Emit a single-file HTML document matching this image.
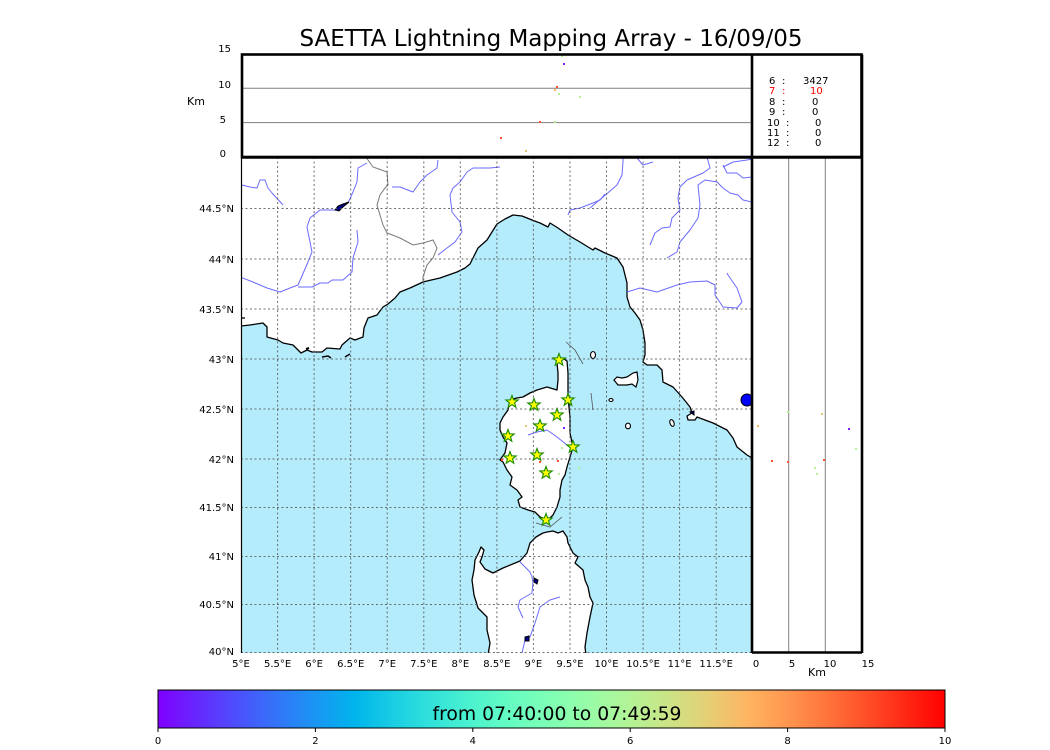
<!DOCTYPE html>
<html><head><meta charset="utf-8"><style>
html,body{margin:0;padding:0;background:#fff;}
svg{display:block;}
text{font-family:"DejaVu Sans","Liberation Sans",sans-serif;fill:#000;}
</style></head><body>
<svg width="1050" height="750" viewBox="0 0 1050 750" xmlns="http://www.w3.org/2000/svg">
<defs>
<clipPath id="mc"><rect x="241" y="157" width="511" height="496"/></clipPath>
<linearGradient id="rb" x1="0" x2="1" y1="0" y2="0">
<stop offset="0" stop-color="rgb(128,0,255)"/>
<stop offset="0.05" stop-color="rgb(102,40,254)"/>
<stop offset="0.1" stop-color="rgb(77,79,252)"/>
<stop offset="0.15" stop-color="rgb(51,116,248)"/>
<stop offset="0.2" stop-color="rgb(26,150,243)"/>
<stop offset="0.25" stop-color="rgb(0,180,236)"/>
<stop offset="0.3" stop-color="rgb(26,206,227)"/>
<stop offset="0.35" stop-color="rgb(51,227,218)"/>
<stop offset="0.4" stop-color="rgb(77,243,206)"/>
<stop offset="0.45" stop-color="rgb(102,252,194)"/>
<stop offset="0.5" stop-color="rgb(128,255,180)"/>
<stop offset="0.55" stop-color="rgb(153,252,166)"/>
<stop offset="0.6" stop-color="rgb(179,243,150)"/>
<stop offset="0.65" stop-color="rgb(204,227,133)"/>
<stop offset="0.7" stop-color="rgb(230,206,116)"/>
<stop offset="0.75" stop-color="rgb(255,180,98)"/>
<stop offset="0.8" stop-color="rgb(255,150,79)"/>
<stop offset="0.85" stop-color="rgb(255,116,59)"/>
<stop offset="0.9" stop-color="rgb(255,79,40)"/>
<stop offset="0.95" stop-color="rgb(255,40,20)"/>
<stop offset="1" stop-color="rgb(255,0,0)"/>
</linearGradient>
<path id="star" d="M0,-6.5 L1.59,-2.18 L6.18,-2.01 L2.57,0.83 L3.82,5.26 L0,2.7 L-3.82,5.26 L-2.57,0.83 L-6.18,-2.01 L-1.59,-2.18 Z" fill="#ffff00" stroke="#1a8a00" stroke-width="1.1"/>
</defs>

<rect width="1050" height="750" fill="#fff"/>

<!-- Title -->
<text x="551" y="46" font-size="23" text-anchor="middle" textLength="503" lengthAdjust="spacingAndGlyphs">SAETTA Lightning Mapping Array - 16/09/05</text>

<!-- MAP -->
<g clip-path="url(#mc)">
<polygon fill="#b4ecfc" points="241,326 250,325 263,323 267,327 267,337 278,340 283,343 293,345 298,350 301,353 307,350 312,352 322,352 327,348 340,349 342,345 350,338 355,340 363,337 364,328 368,318 377,315 383,307 388,304 395,298 400,292 410,288 423,282 427,281 440,278 457,272 465,268 470,264 474,256 478,248 487,240 492,232 497,224 505,219 513,215 522,216 532,220 540,223 548,227 550,223 558,228 568,235 580,242 593,250 595,248 605,253 617,258 623,267 625,275 627,283 627,297 630,307 635,313 640,320 643,330 645,343 645,355 643,362 647,365 657,365 662,370 663,382 673,387 682,397 690,407 692,413 687,416 688,420 695,420 697,417 705,420 713,423 727,430 733,438 737,447 747,455 752,458 752,653 241,653"/>
<polyline fill="none" stroke="#000" stroke-width="1.3" stroke-linejoin="round" points="241,326 250,325 263,323 267,327 267,337 278,340 283,343 293,345 298,350 301,353 307,350 312,352 322,352 327,348 340,349 342,345 350,338 355,340 363,337 364,328 368,318 377,315 383,307 388,304 395,298 400,292 410,288 423,282 427,281 440,278 457,272 465,268 470,264 474,256 478,248 487,240 492,232 497,224 505,219 513,215 522,216 532,220 540,223 548,227 550,223 558,228 568,235 580,242 593,250 595,248 605,253 617,258 623,267 625,275 627,283 627,297 630,307 635,313 640,320 643,330 645,343 645,355 643,362 647,365 657,365 662,370 663,382 673,387 682,397 690,407 692,413 687,416 688,420 695,420 697,417 705,420 713,423 727,430 733,438 737,447 747,455 752,458"/>
<path d="M241,318 L245,318" stroke="#000" stroke-width="1.3"/>

<!-- Corsica -->
<polygon fill="#fff" stroke="#000" stroke-width="1.3" stroke-linejoin="round" points="560,359 564,359 567,361 568,373 568,385 568,397 569,407 570,417 570,433 573,447 570,457 567,467 565,475 562,480 560,490 560,497 557,507 553,515 550,518 545,519 540,517 535,512 528,510 520,507 518,500 522,497 517,490 510,485 512,477 507,470 503,462 500,460 502,457 505,453 507,443 503,437 500,430 500,423 503,417 508,410 510,400 517,398 523,397 530,393 537,390 547,387 557,390 558,380 558,373 557,363"/>
<!-- Sardinia -->
<polygon fill="#fff" stroke="#000" stroke-width="1.3" stroke-linejoin="round" points="543,533 547,532 553,531 558,533 563,531 567,537 568,543 573,553 578,557 575,563 583,570 585,580 588,587 590,597 593,603 590,617 587,633 585,647 586,655 488,655 490,643 487,630 487,617 478,608 474,595 472,580 474,570 475,560 479,552 481,547 484,550 482,557 480,562 485,569 493,573 503,568 520,561 527,553 530,543 536,537"/>
<!-- small islands -->
<polygon fill="#fff" stroke="#000" stroke-width="1.2" points="614,380 617,377 622,378 627,377 633,373 637,372 638,380 636,387 632,384 627,385 618,385"/>
<ellipse cx="593" cy="355" rx="2.5" ry="3.5" fill="#fff" stroke="#000" stroke-width="1.1"/>
<ellipse cx="611" cy="400" rx="2" ry="1.5" fill="#fff" stroke="#000" stroke-width="1.1"/>
<ellipse cx="628" cy="426" rx="2.5" ry="2.8" fill="#fff" stroke="#000" stroke-width="1.1"/>
<ellipse cx="672" cy="423" rx="2" ry="3.5" fill="#fff" stroke="#000" stroke-width="1.1" transform="rotate(-20 672 423)"/>
<path d="M322,357 L328,356 L331,358 M345,357 L350,354" stroke="#000" stroke-width="1.5" fill="none"/>
<path d="M306,349 L309,348" stroke="#000" stroke-width="2"/>
<!-- bathy-like thin lines -->
<path d="M566,342 L575,350 L583,364 M591,393 L593,410 M536,523 L550,527 L562,517" stroke="#555" stroke-width="0.8" fill="none"/>

<!-- Rivers -->
<g fill="none" stroke="#6a6aff" stroke-width="1" stroke-linejoin="round">
<path d="M242,185 L250,187 L257,188 L260,180 L265,180 L268,188 L272,193 L283,205"/>
<path d="M367,163 L358,168 L357,182 L353,192 L348,203 L340,207 L337,210 L320,210 L310,218 L307,227 L310,242 L312,252 L308,262 L298,285 L290,288 L280,292 L267,288 L253,282 L240,277"/>
<path d="M357,230 L358,242 L353,258 L352,272 L343,280 L332,280 L328,283 L320,283 L312,287 L298,287"/>
<path d="M438,160 L437,168 L427,175 L420,182 L413,192 L400,187 L392,187"/>
<path d="M500,167 L490,168 L473,168 L467,172 L460,182 L453,188 L450,195 L452,212 L460,222 L462,232 L455,242 L447,248 L438,255"/>
<path d="M590,208 L603,197 L617,185 L622,175 L623,162 L623,157"/>
<path d="M637,158 L643,165 L653,162"/>
<path d="M707,157 L710,168 L703,173 L687,180 L680,187 L678,198 L680,210 L672,218 L670,227 L662,228 L655,233 L650,245"/>
<path d="M667,258 L677,252 L680,242 L690,230 L698,218 L700,205 L698,185 L705,180 L717,182 L723,188 L730,193 L738,195 L743,200 L752,202"/>
<path d="M723,165 L727,173 L737,173 L743,178 L752,177"/>
<path d="M723,167 L733,162 L747,160 L752,159"/>
<path d="M627,292 L640,288 L657,292 L677,285 L690,282 L707,281 L715,285 L715,295 L723,307 L737,308 L742,302 L737,288 L728,275 L727,273"/>
<path d="M568,215 L570,210 L580,208 L593,203 L600,200 L605,194"/>
<path d="M528,435 L537,432 L547,430 L557,437 L567,445 L572,448"/>
<path d="M520,562 L530,572 L532,577 L533,582 L532,593 L520,600 L518,607 L523,618"/>
<path d="M560,597 L550,600 L540,607 L535,623 L530,637 L525,640 L522,653"/>
</g>
<!-- Borders -->
<path fill="none" stroke="#7a7a7a" stroke-width="1" d="M368,160 L373,167 L387,172 L388,185 L385,188 L380,195 L377,205 L380,215 L383,225 L387,233 L400,238 L413,245 L423,243 L433,240 L437,248 L433,258 L427,265 L423,277 L423,282"/>
<path fill="none" stroke="#7a7a7a" stroke-width="1" d="M368,160 L366,157"/>
<!-- lakes -->
<path d="M335,210 L338,206 L343,204 L349,202 L343,207 L339,211 Z" fill="#00008b" stroke="#000" stroke-width="1"/>
<path d="M534,578 L538,580 L537,584 L534,582 Z" fill="#00008b" stroke="#000" stroke-width="1"/>
<path d="M525,637 L529,636 L529,641 L525,641 Z" fill="#00008b" stroke="#000" stroke-width="1"/>
<path d="M690,412 L694,411 L694,415 Z" fill="#00008b" stroke="#000" stroke-width="1"/>
<circle cx="747" cy="400" r="6" fill="#0000ff" stroke="#000" stroke-width="1"/>

<!-- Grid -->
<g stroke="#555" stroke-width="1" stroke-dasharray="2,2.5" opacity="0.85">
<path d="M277.6,157V653 M314.1,157V653 M350.7,157V653 M387.2,157V653 M423.8,157V653 M460.3,157V653 M496.9,157V653 M533.4,157V653 M570,157V653 M606.5,157V653 M643.1,157V653 M679.6,157V653 M716.2,157V653"/>
<path d="M241,208.5H752 M241,259H752 M241,309H752 M241,359H752 M241,409H752 M241,459H752 M241,507.5H752 M241,556.5H752 M241,604.5H752 M241,652.5H752"/>
</g>

<!-- dots on map -->
<g>
<rect x="525" y="425" width="2" height="2" fill="#e8c070"/>
<rect x="563" y="427" width="2" height="2" fill="#8020ff"/>
<rect x="561" y="447" width="2" height="2" fill="#b8f098"/>
<rect x="501" y="459" width="2" height="2" fill="#ff5030"/>
<rect x="539" y="461" width="2" height="2" fill="#ff5030"/>
<rect x="557" y="460" width="2" height="2" fill="#ff5030"/>
<rect x="578" y="467" width="2" height="2" fill="#b8f098"/>
<rect x="558" y="473" width="2" height="2" fill="#b8f098"/>
</g>
<!-- Stars -->
<use href="#star" x="559" y="360"/>
<use href="#star" x="512" y="402"/>
<use href="#star" x="534" y="405"/>
<use href="#star" x="568" y="400"/>
<use href="#star" x="557" y="415"/>
<use href="#star" x="540" y="426"/>
<use href="#star" x="508" y="436"/>
<use href="#star" x="573" y="447"/>
<use href="#star" x="537" y="455"/>
<use href="#star" x="510" y="458"/>
<use href="#star" x="546" y="473"/>
<use href="#star" x="546" y="520"/>
</g>
<!-- map left frame -->
<path d="M241.5,157V653" stroke="#000" stroke-width="1.2"/>

<!-- TOP PANEL -->
<path d="M242,88.3H752 M242,122.6H752" stroke="#808080" stroke-width="1"/>
<g>
<rect x="561" y="55" width="2" height="2" fill="#b8f098"/>
<rect x="563" y="63" width="2" height="2" fill="#8020ff"/>
<rect x="556" y="86" width="2" height="2" fill="#ff5030"/>
<rect x="554" y="89" width="2" height="2" fill="#ffb060"/>
<rect x="558" y="93" width="2" height="2" fill="#b8f098"/>
<rect x="579" y="96" width="2" height="2" fill="#b8f098"/>
<rect x="539" y="121" width="2" height="2" fill="#ff5030"/>
<rect x="554" y="121" width="2" height="2" fill="#b8f098"/>
<rect x="500" y="137" width="2" height="2" fill="#ff5030"/>
<rect x="525" y="150" width="2" height="2" fill="#e8c070"/>
</g>
<g font-size="10" text-anchor="end">
<text x="231" y="52">15</text>
<text x="231" y="88">10</text>
<text x="226" y="123">5</text>
<text x="226" y="157">0</text>
</g>
<text x="196" y="105" font-size="11" text-anchor="middle">Km</text>

<!-- top-right legend -->
<g font-size="10">
<text x="769" y="84">6</text><text x="782" y="84">:</text><text x="803" y="84">3427</text>
<text x="769" y="94" fill="#ff0000" style="fill:#ff0000">7</text><text x="782" y="94" style="fill:#ff0000">:</text><text x="810" y="94" style="fill:#ff0000">10</text>
<text x="769" y="105">8</text><text x="782" y="105">:</text><text x="812" y="105">0</text>
<text x="769" y="115">9</text><text x="782" y="115">:</text><text x="812" y="115">0</text>
<text x="767" y="126">10</text><text x="786" y="126">:</text><text x="815" y="126">0</text>
<text x="767" y="136">11</text><text x="786" y="136">:</text><text x="815" y="136">0</text>
<text x="767" y="146">12</text><text x="786" y="146">:</text><text x="815" y="146">0</text>
</g>

<!-- RIGHT PANEL -->
<path d="M788.7,157V653 M825.3,157V653" stroke="#808080" stroke-width="1"/>
<g>
<rect x="787" y="411" width="2" height="2" fill="#b8f098"/>
<rect x="821" y="413" width="2" height="2" fill="#e8c070"/>
<rect x="757" y="425" width="2" height="2" fill="#ffb060"/>
<rect x="848" y="428" width="2" height="2" fill="#8020ff"/>
<rect x="855" y="448" width="2" height="2" fill="#b8f098"/>
<rect x="771" y="460" width="2" height="2" fill="#ff5030"/>
<rect x="787" y="461" width="2" height="2" fill="#ff5030"/>
<rect x="823" y="459" width="2" height="2" fill="#ff5030"/>
<rect x="814" y="467" width="2" height="2" fill="#b8f098"/>
<rect x="816" y="473" width="2" height="2" fill="#b8f098"/>
</g>

<!-- Frames -->
<g stroke="#000" stroke-width="2.6" fill="none">
<rect x="242" y="54.5" width="619.5" height="102.5"/>
<path d="M752,54.5V653 M862,54.5V653 M752,652.5H862 M241,157.5H862"/>
</g>

<!-- Lat labels -->
<g font-size="10" text-anchor="end">
<text x="234" y="212">44.5°N</text>
<text x="234" y="263">44°N</text>
<text x="234" y="313">43.5°N</text>
<text x="234" y="363">43°N</text>
<text x="234" y="413">42.5°N</text>
<text x="234" y="463">42°N</text>
<text x="234" y="511">41.5°N</text>
<text x="234" y="560">41°N</text>
<text x="234" y="608">40.5°N</text>
<text x="234" y="655">40°N</text>
</g>
<!-- Lon labels -->
<g font-size="10" text-anchor="middle">
<text x="241" y="667">5°E</text>
<text x="277.6" y="667">5.5°E</text>
<text x="314.1" y="667">6°E</text>
<text x="350.7" y="667">6.5°E</text>
<text x="387.2" y="667">7°E</text>
<text x="423.8" y="667">7.5°E</text>
<text x="460.3" y="667">8°E</text>
<text x="496.9" y="667">8.5°E</text>
<text x="533.4" y="667">9°E</text>
<text x="570" y="667">9.5°E</text>
<text x="606.5" y="667">10°E</text>
<text x="643.1" y="667">10.5°E</text>
<text x="679.6" y="667">11°E</text>
<text x="716.2" y="667">11.5°E</text>
<text x="756" y="667">0</text>
<text x="792" y="667">5</text>
<text x="830" y="667">10</text>
<text x="868" y="667">15</text>
</g>
<text x="817" y="676" font-size="11" text-anchor="middle">Km</text>

<!-- Colorbar -->
<rect x="158" y="690" width="787" height="38" fill="url(#rb)" stroke="#000" stroke-width="1"/>
<text x="557" y="720" font-size="19" text-anchor="middle" textLength="249" lengthAdjust="spacingAndGlyphs">from 07:40:00 to 07:49:59</text>
<path d="M158,728V732 M315.4,728V732 M472.8,728V732 M630.2,728V732 M787.6,728V732 M945,728V732" stroke="#000" stroke-width="1"/>
<g font-size="10" text-anchor="middle">
<text x="158" y="744">0</text>
<text x="315.4" y="744">2</text>
<text x="472.8" y="744">4</text>
<text x="630.2" y="744">6</text>
<text x="787.6" y="744">8</text>
<text x="945" y="744">10</text>
</g>
</svg>
</body></html>
